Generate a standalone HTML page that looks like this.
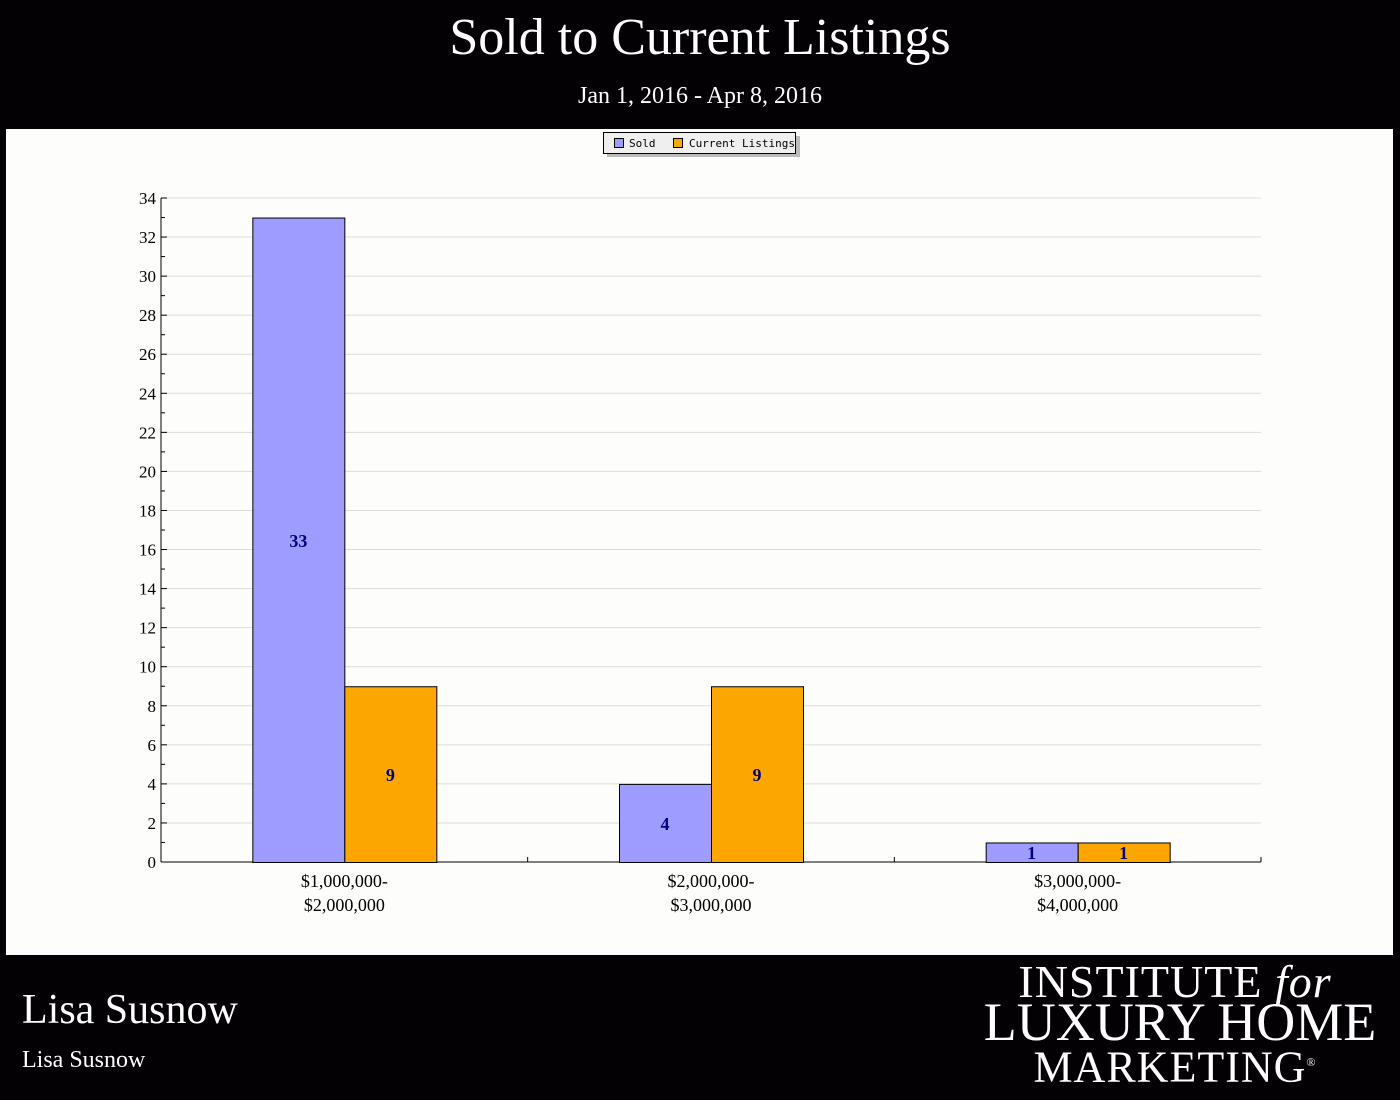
<!DOCTYPE html>
<html><head><meta charset="utf-8"><style>
body{margin:0;width:1400px;height:1100px;background:#030104;overflow:hidden;font-family:"Liberation Serif",serif;color:#fff;position:relative}
.t{position:absolute;left:0;width:1400px;text-align:center}
</style></head><body>
<div class="t" style="top:8px;font-size:52px">Sold to Current Listings</div>
<div class="t" style="top:83px;font-size:24px">Jan 1, 2016 - Apr 8, 2016</div>
<svg id="c" style="position:absolute;left:6px;top:129px" width="1387" height="826"></svg>
<div style="position:absolute;left:22px;top:986px;font-size:42px">Lisa Susnow</div>
<div style="position:absolute;left:22px;top:1047px;font-size:24px">Lisa Susnow</div>
<div style="position:absolute;left:960px;top:962px;width:430px;text-align:center;line-height:40px">
<div style="font-size:46px;letter-spacing:1px">INSTITUTE <i>for</i></div>
<div style="font-size:54px;margin-left:10px">LUXURY HOME</div>
<div style="font-size:44px;letter-spacing:1px">MARKETING<sup style="font-size:12px">®</sup></div>
</div>
<script>
const categories=["$1,000,000-|$2,000,000","$2,000,000-|$3,000,000","$3,000,000-|$4,000,000"];
const soldValues=[33,4,1];
const listingValues=[9,9,1];
const yTicks=[0,2,4,6,8,10,12,14,16,18,20,22,24,26,28,30,32,34];
const seriesNames=["Sold","Current Listings"];
const svg=document.getElementById('c');const NS='http://www.w3.org/2000/svg';
function mk(t,a,p){const e=document.createElementNS(NS,t);for(const k in a)e.setAttribute(k,a[k]);(p||svg).appendChild(e);return e;}
mk('rect',{x:0,y:0,width:1387,height:826,fill:'#fdfefc'});
const X0=155,X1=1255,Y0=733,Y1=69,YMAX=34;
const y=v=>Y0-(v/YMAX)*(Y0-Y1);
const gw=(X1-X0)/categories.length;
const gx=i=>X0+gw*i;
// grid and ticks
yTicks.forEach(v=>{
 const g=mk('line',{x1:X0,x2:X1,y1:y(v),y2:y(v),stroke:'#dcdcdc'});
 mk('line',{x1:X0,x2:X0+6,y1:y(v),y2:y(v),stroke:'#000'});
 const t=mk('text',{x:X0-5,y:y(v)+6,'text-anchor':'end','font-size':17,fill:'#000','font-family':'Liberation Serif,serif'});t.textContent=v;
 
 if(v<YMAX)mk('line',{x1:X0,x2:X0+4,y1:y(v+1),y2:y(v+1),stroke:'#000'});
});
mk('line',{x1:X0,x2:X0,y1:Y1,y2:Y0,stroke:'#000'});
mk('line',{x1:X0,x2:X1,y1:Y0,y2:Y0,stroke:'#000'});
for(let i=1;i<=categories.length;i++)mk('line',{x1:gx(i),x2:gx(i),y1:Y0,y2:Y0-5,stroke:'#000'});
const bw=92;
const series=[[soldValues,'#9e9cff'],[listingValues,'#fca601']];
categories.forEach((c,i)=>{
 const cx=gx(i)+gw/2;
 series.forEach(([vals,col],s)=>{
  const v=vals[i];const bx=cx-bw+s*bw;
  const r=mk('rect',{x:bx+.5,y:y(v)+.5,width:bw,height:Y0-y(v),fill:col,stroke:'#000'});
  
  const t=mk('text',{x:bx+bw/2,y:(y(v)+Y0)/2+7,'text-anchor':'middle','font-size':18,'font-weight':'bold',fill:'#000080','font-family':'Liberation Serif,serif'});t.textContent=v;
  
 });
 c.split('|').forEach((ln,k)=>{const t=mk('text',{x:cx,y:Y0+25+k*24,'text-anchor':'middle','font-size':18,fill:'#000','font-family':'Liberation Serif,serif'});t.textContent=ln;
 });
});
// legend
const lg=mk('g',{});
mk('rect',{x:601,y:7,width:193,height:21,fill:'#bbb'},lg);
mk('rect',{x:597.5,y:3.5,width:192,height:21,fill:'#efefef',stroke:'#000'},lg);
mk('rect',{x:608.5,y:9.5,width:9,height:9,fill:'#9e9cff',stroke:'#000'},lg);
mk('rect',{x:667.5,y:9.5,width:9,height:9,fill:'#fca601',stroke:'#000'},lg);
[[623,seriesNames[0]],[683,seriesNames[1]]].forEach(([x,n])=>{const t=mk('text',{x:x,y:18,'font-size':11,fill:'#000','font-family':'DejaVu Sans Mono,monospace'},lg);t.textContent=n;
});
</script>
</body></html>
